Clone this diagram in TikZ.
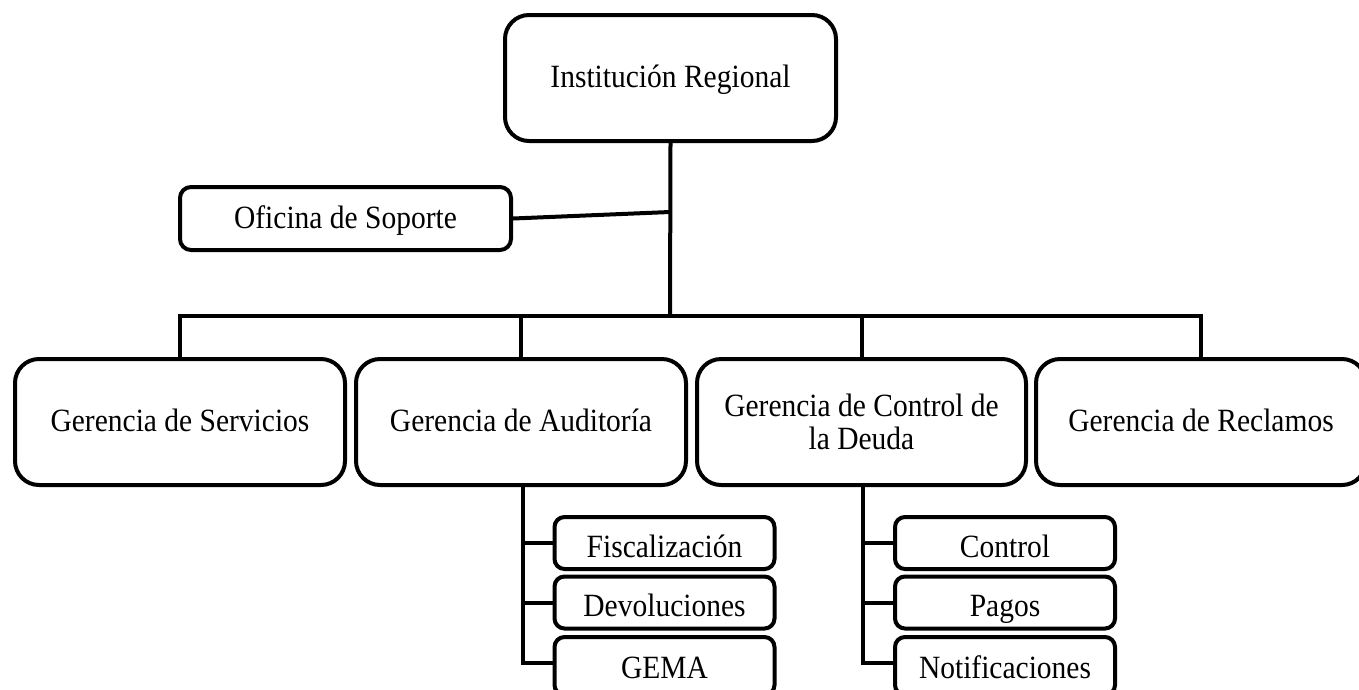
\documentclass[tikz,border=0pt]{standalone}
\usepackage{graphicx}
\usepackage{fontspec}
\setmainfont{Liberation Serif}
\newcommand\vstr[1]{\scalebox{1}[1.1]{#1}}
\begin{document}
\begin{tikzpicture}[x=1pt,y=-1pt,
  mainbox/.style={draw, line width=4, rounded corners=24, minimum width=330, minimum height=126,
    inner sep=0, font=\fontsize{29.5}{33}\selectfont, align=center},
  one/.style={text height=20, text depth=1},
  ofibox/.style={draw, line width=4, rounded corners=11, minimum width=331, minimum height=63,
    inner sep=0, font=\fontsize{29.5}{33}\selectfont, text height=20, text depth=1},
  subbox/.style={draw, line width=4, rounded corners=10, minimum width=220, minimum height=52,
    inner sep=0, font=\fontsize{29.5}{33}\selectfont, text height=30, text depth=2},
  lastbox/.style={subbox, minimum height=58, text height=26, text depth=2},
  conn/.style={line width=4}]
\clip (0,0) rectangle (1359,689);
% top
\node[mainbox, one, minimum width=331] (top) at (670.5,78) {\vstr{Institución Regional}};
\node[ofibox] (ofi) at (345.5,218.5) {\vstr{Oficina de Soporte}};
% level 2
\node[mainbox, one] (g1) at (180,422) {\vstr{Gerencia de Servicios}};
\node[mainbox, one] (g2) at (521,422) {\vstr{Gerencia de Auditoría}};
\node[mainbox, minimum width=329] (g3) at (861.5,422) {\vstr{Gerencia de Control de}\\\vstr{la Deuda}};
\node[mainbox, one] (g4) at (1201,422) {\vstr{Gerencia de Reclamos}};
% sub boxes
\node[subbox] (a1) at (664.5,543) {\vstr{Fiscalización}};
\node[subbox] (a2) at (664.5,602.5) {\vstr{Devoluciones}};
\node[lastbox] (a3) at (664.5,666) {\vstr{GEMA}};
\node[subbox] (c1) at (1005,543) {\vstr{Control}};
\node[subbox] (c2) at (1005,602.5) {\vstr{Pagos}};
\node[lastbox] (c3) at (1005,666) {\vstr{Notificaciones}};
% connectors
\coordinate (bus) at (670,316);
\coordinate (oj) at (670,212);
\coordinate (av) at ([xshift=2]g2.south);
\coordinate (cv) at ([xshift=1.5]g3.south);
\coordinate (aend) at (av |- 0,663);
\coordinate (cend) at (cv |- 0,663);
\draw[conn] (top.south) -- (bus);
\draw[conn] (ofi.east) -- (oj);
\draw[conn] (g1.north) |- (bus) -| (g4.north);
\draw[conn] (g2.north) -- (g2.north |- bus);
\draw[conn] (g3.north) -- (g3.north |- bus);
\draw[conn] (av) -- (aend) -- (aend -| a3.west);
\draw[conn] (av |- a1.west) -- (a1.west);
\draw[conn] (av |- a2.west) -- (a2.west);
\draw[conn] (cv) -- (cend) -- (cend -| c3.west);
\draw[conn] (cv |- c1.west) -- (c1.west);
\draw[conn] (cv |- c2.west) -- (c2.west);
\end{tikzpicture}
\end{document}
